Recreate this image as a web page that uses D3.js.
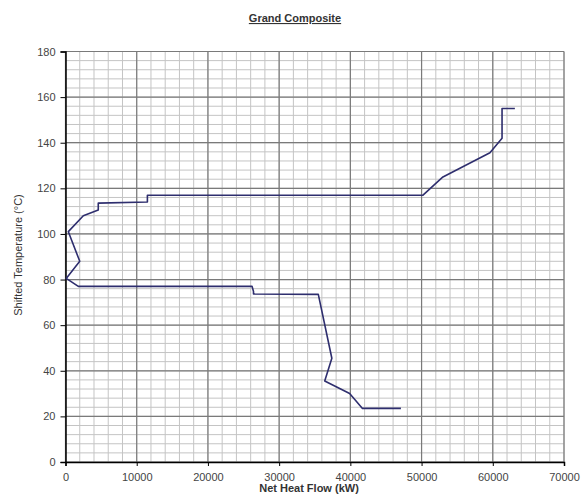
<!DOCTYPE html>
<html>
<head>
<meta charset="utf-8">
<script src="https://cdn.jsdelivr.net/npm/d3@7"></script>
<style>
body { margin: 0; background: #fff; }
text { font-family: Arial, "Liberation Sans", sans-serif; }
</style>
</head>
<body>
<script>
var width = 581;
var height = 500;

// data
var heatFlow = [63100, 61300, 61300, 59600, 53000, 50200, 11500, 11500, 4600, 4600, 2500, 400, 2000, 100, 1800, 26200, 26400, 26400, 35500, 37400, 36400, 39900, 41700, 47100];
var temperature = [155, 155, 142, 135.6, 125, 117, 117, 114, 113.5, 110.5, 108, 101, 88, 80.5, 77, 77, 74.8, 73.7, 73.5, 45.5, 35.5, 30, 23.5, 23.5];
var xTicks = [0, 10000, 20000, 30000, 40000, 50000, 60000, 70000];
var yTicks = [0, 20, 40, 60, 80, 100, 120, 140, 160, 180];

var margin = {top: 51.5, right: 17, bottom: 38, left: 65.5};

var svg = d3.select("body")
    .append("svg")
    .attr("width", width)
    .attr("height", height);

var x = d3.scaleLinear().domain([0, 70000]).range([margin.left, width - margin.right]);
var y = d3.scaleLinear().domain([0, 180]).range([height - margin.bottom, margin.top]);

// minor grid
svg.append("g")
    .selectAll("line")
    .data(d3.range(0, 70001, 2000))
    .enter().append("line")
    .attr("x1", d => x(d)).attr("x2", d => x(d))
    .attr("y1", y(0)).attr("y2", y(180))
    .attr("stroke", "#c4c4c4").attr("stroke-width", 1);
svg.append("g")
    .selectAll("line")
    .data(d3.range(0, 181, 4))
    .enter().append("line")
    .attr("x1", x(0)).attr("x2", x(70000))
    .attr("y1", d => y(d)).attr("y2", d => y(d))
    .attr("stroke", "#c4c4c4").attr("stroke-width", 1);

// major grid
svg.append("g")
    .selectAll("line")
    .data(xTicks)
    .enter().append("line")
    .attr("x1", d => x(d)).attr("x2", d => x(d))
    .attr("y1", y(0)).attr("y2", y(180))
    .attr("stroke", "#7a7a7a").attr("stroke-width", 1.2);
svg.append("g")
    .selectAll("line")
    .data(yTicks)
    .enter().append("line")
    .attr("x1", x(0)).attr("x2", x(70000))
    .attr("y1", d => y(d)).attr("y2", d => y(d))
    .attr("stroke", "#7a7a7a").attr("stroke-width", 1.2);

// axes
var xAxis = svg.append("g")
    .attr("transform", "translate(0," + y(0) + ")")
    .call(d3.axisBottom(x).tickValues(xTicks).tickFormat(d3.format("d")).tickSize(4).tickPadding(7));
var yAxis = svg.append("g")
    .attr("transform", "translate(" + x(0) + ",0)")
    .call(d3.axisLeft(y).tickValues(yTicks).tickSize(5).tickPadding(5));

[xAxis, yAxis].forEach(function (a) {
    a.select(".domain").attr("stroke", "#000").attr("stroke-width", 1.5);
    a.selectAll(".tick line").attr("stroke", "#000");
    a.selectAll("text").attr("font-size", 11).attr("fill", "#444");
});

// curve
var line = d3.line()
    .x(d => x(d[0]))
    .y(d => y(d[1]));

svg.append("path")
    .datum(d3.zip(heatFlow, temperature))
    .attr("fill", "none")
    .attr("stroke", "#2e2e6e")
    .attr("stroke-width", 1.6)
    .attr("stroke-linejoin", "round")
    .attr("d", line);

// titles
var title = svg.append("text")
    .attr("x", 295)
    .attr("y", 22)
    .attr("text-anchor", "middle")
    .attr("font-size", 11)
    .attr("font-weight", "bold")
    .attr("fill", "#333")
    .attr("text-decoration", "underline")
    .text("Grand Composite");

svg.append("text")
    .attr("x", 309)
    .attr("y", 492)
    .attr("text-anchor", "middle")
    .attr("font-size", 11)
    .attr("font-weight", "bold")
    .attr("fill", "#333")
    .text("Net Heat Flow (kW)");

svg.append("text")
    .attr("transform", "translate(22,255) rotate(-90)")
    .attr("text-anchor", "middle")
    .attr("font-size", 11)
    .attr("fill", "#333")
    .text("Shifted Temperature (°C)");
</script>
</body>
</html>
